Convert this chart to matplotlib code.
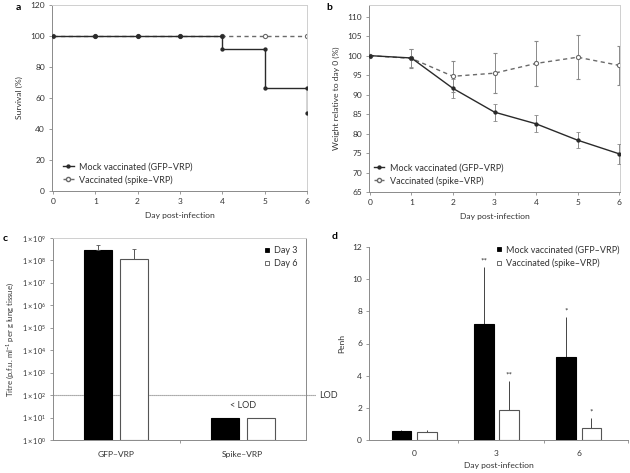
import matplotlib
matplotlib.use("Agg")
import matplotlib.pyplot as plt
from matplotlib.lines import Line2D
import numpy as np

plt.rcParams['font.family'] = ['Lato', 'DejaVu Sans']
plt.rcParams['font.size'] = 6
plt.rcParams['mathtext.fontset'] = 'custom'
plt.rcParams['mathtext.rm'] = 'Lato'
plt.rcParams['mathtext.it'] = 'Lato:italic'

# ---------------- data ----------------
days = [0, 1, 2, 3, 4, 5, 6]
# panel a: survival (%)
survival_mock = [100, 100, 100, 100, 91.7, 66.7, 50]
survival_vac = [100, 100, 100, 100, 100, 100, 100]
# panel b: weight relative to day 0 (%)
weight_mock = [100, 99.4, 91.6, 85.5, 82.5, 78.3, 74.8]
weight_mock_err = [0, 2.4, 2.4, 2.2, 2.2, 2.1, 2.5]
weight_vac = [100, 99.3, 94.7, 95.5, 98.0, 99.6, 97.5]
weight_vac_err = [0, 2.5, 4.0, 5.2, 5.8, 5.7, 5.0]
# panel c: lung titres
titre_groups = ['GFP\u2013VRP', 'Spike\u2013VRP']
titre_day3 = [3.0e8, 10]
titre_day3_err = [1.7e8, 0]
titre_day6 = [1.2e8, 10]
titre_day6_err = [2.0e8, 0]
lod = 100
# panel d: Penh
penh_days = ['0', '3', '6']
penh_mock = [0.55, 7.22, 5.18]
penh_mock_err = [0.09, 3.52, 2.47]
penh_vac = [0.52, 1.85, 0.77]
penh_vac_err = [0.09, 1.82, 0.60]
stars_mock = ['', '**', '*']
stars_vac = ['', '**', '*']

label_mock = 'Mock vaccinated (GFP\u2013VRP)'
label_vac = 'Vaccinated (spike\u2013VRP)'

DARK = '#2a2a2a'
GREY = '#6a6a6a'
SPINE = '#8a8a8a'
LIGHT = '#cfcfcf'
TXT = '#333333'
TICKFS = 6.0
LABFS = 6.1
LEGFS = 6.5

fig = plt.figure(figsize=(6.3, 4.73), dpi=100)


def style(ax, box=True):
    for s in ['left', 'bottom']:
        ax.spines[s].set_color(SPINE)
        ax.spines[s].set_linewidth(0.7)
    if box:
        for s in ['top', 'right']:
            ax.spines[s].set_color(LIGHT)
            ax.spines[s].set_linewidth(0.7)
    else:
        ax.spines['top'].set_visible(False)
        ax.spines['right'].set_visible(False)
    ax.tick_params(length=2.5, width=0.6, color=SPINE, labelcolor=TXT,
                   labelsize=TICKFS, pad=2.5)


# ---------------- panel a ----------------
axa = fig.add_axes([52/630, 1-191/473, 255/630, 186/473])
style(axa)
axa.plot(days, survival_vac, color=GREY, ls=(0, (3, 2.5)), lw=1.0,
         marker='o', ms=3.0, mfc='white', mec=GREY, mew=0.8, zorder=2)
axa.plot(days, survival_mock, color=DARK, lw=1.0, drawstyle='steps-post', zorder=3)
axa.plot(days, survival_mock, ls='none', marker='o', ms=2.1, color=DARK, zorder=4)
axa.plot(days[1:], survival_mock[:-1], ls='none', marker='o', ms=2.1, color=DARK, zorder=4)
axa.set_xlim(-0.02, 6)
axa.set_ylim(0, 120)
axa.set_xticks(days)
axa.set_yticks(range(0, 121, 20))
axa.set_xlabel('Day post-infection', color=TXT, fontsize=LABFS, labelpad=5)
axa.set_ylabel('Survival (%)', color=TXT, fontsize=LABFS, labelpad=5)
h1 = Line2D([], [], color=DARK, lw=1.0, marker='o', ms=2.1)
h2 = Line2D([], [], color=GREY, lw=1.0, ls=(0, (3, 2.5)), marker='o', ms=3.0, mfc='white', mec=GREY)
axa.legend([h1, h2], [label_mock, label_vac], loc='lower left',
           bbox_to_anchor=(0.025, 0.01), frameon=False, fontsize=LEGFS,
           handlelength=1.2, handletextpad=0.6, labelspacing=0.4, labelcolor=TXT,
           borderaxespad=0.1)
fig.text(18/630, 1-8/473, 'a', fontsize=7.5, fontweight='bold', va='center', ha='center')

# ---------------- panel b ----------------
axb = fig.add_axes([369/630, 1-192/473, 251/630, 187/473])
style(axb)
axb.errorbar(days, weight_vac, yerr=weight_vac_err, color=GREY, ls=(0, (3, 2.5)), lw=1.0,
             marker='o', ms=3.0, mfc='white', mec=GREY, mew=0.8,
             ecolor='#8a8a8a', elinewidth=0.7, capsize=1.3, capthick=0.6, zorder=2)
axb.errorbar(days, weight_mock, yerr=weight_mock_err, color=DARK, lw=1.0,
             marker='o', ms=2.1, ecolor='#8a8a8a', elinewidth=0.7, capsize=1.3,
             capthick=0.6, zorder=3)
axb.set_xlim(-0.02, 6.02)
axb.set_ylim(65, 113)
axb.set_xticks(days)
axb.set_yticks(range(65, 111, 5))
axb.set_xlabel('Day post-infection', color=TXT, fontsize=LABFS, labelpad=5)
axb.set_ylabel('Weight relative to day 0 (%)', color=TXT, fontsize=LABFS, labelpad=5)
axb.legend([h1, h2], [label_mock, label_vac], loc='lower left',
           bbox_to_anchor=(0.0, 0.01), frameon=False, fontsize=LEGFS,
           handlelength=1.2, handletextpad=0.6, labelspacing=0.4, labelcolor=TXT,
           borderaxespad=0.1)
fig.text(329/630, 1-8/473, 'b', fontsize=7.5, fontweight='bold', va='center', ha='center')

# ---------------- panel c ----------------
axc = fig.add_axes([53/630, 1-440/473, 253/630, 202/473])
style(axc)
axc.spines['right'].set_color(SPINE)
axc.set_yscale('log')
xc = np.arange(len(titre_groups))
w = 0.22
off = 0.143
axc.bar(xc - off, np.array(titre_day3) - 1, bottom=1, width=w, color='black',
        edgecolor='black', lw=0.8, zorder=3)
axc.bar(xc + off, np.array(titre_day6) - 1, bottom=1, width=w, color='white',
        edgecolor='#555555', lw=0.8, zorder=3)
axc.errorbar(xc[:1] - off, titre_day3[:1], yerr=[[0], titre_day3_err[:1]], fmt='none',
             ecolor='#555555', elinewidth=0.7, capsize=1.3, capthick=0.6, zorder=4)
axc.errorbar(xc[:1] + off, titre_day6[:1], yerr=[[0], titre_day6_err[:1]], fmt='none',
             ecolor='#555555', elinewidth=0.7, capsize=1.3, capthick=0.6, zorder=4)
axc.axhline(lod, color='#777777', ls=(0, (1, 0.8)), lw=0.8, zorder=2)
axc.plot([1.5, 1.58], [lod, lod], color='#777777', ls=(0, (1, 0.8)), lw=0.8,
         clip_on=False)
axc.text(1.6, lod, 'LOD', color=TXT, fontsize=LEGFS, va='center', ha='left')
axc.text(xc[1], 22, '< LOD', color=TXT, fontsize=LEGFS, va='bottom', ha='center')
axc.set_xlim(-0.5, 1.5)
axc.set_ylim(1, 1e9)
axc.set_xticks(xc)
axc.set_xticklabels(titre_groups, fontsize=LABFS)
axc.set_xticks([0.5], minor=True)
axc.tick_params(axis='x', which='major', length=0, pad=8)
axc.tick_params(axis='x', which='minor', length=2.5, width=0.6, color=SPINE)
axc.set_yticks([10.0**k for k in range(10)])
axc.set_yticklabels([r'$1\times10^{%d}$' % k for k in range(10)], fontsize=5.3)
axc.yaxis.set_minor_locator(matplotlib.ticker.NullLocator())
axc.set_ylabel(r'Titre (p.f.u. ml$^{-1}$ per g lung tissue)', color=TXT, fontsize=5.6, labelpad=4)
hc1 = Line2D([], [], ls='none', marker='s', ms=3.4, mfc='black', mec='black', mew=0.6)
hc2 = Line2D([], [], ls='none', marker='s', ms=3.4, mfc='white', mec='#555555', mew=0.6)
axc.legend([hc1, hc2], ['Day 3', 'Day 6'], loc='upper right', bbox_to_anchor=(1.0, 1.0),
           frameon=False, fontsize=LEGFS, handlelength=0.6,
           handletextpad=0.5, labelspacing=0.4, labelcolor=TXT)
fig.text(5/630, 1-238/473, 'c', fontsize=7.5, fontweight='bold', va='center', ha='center')

# ---------------- panel d ----------------
axd = fig.add_axes([369/630, 1-440/473, 259/630, 193/473])
style(axd, box=False)
xd = np.arange(len(penh_days))
wd = 0.24
offd = 0.155
axd.bar(xd - offd, penh_mock, width=wd, color='black', edgecolor='black', lw=0.8, zorder=3)
axd.bar(xd + offd, penh_vac, width=wd, color='white', edgecolor='#555555', lw=0.8, zorder=3)
axd.errorbar(xd - offd, penh_mock, yerr=[np.zeros(3), penh_mock_err], fmt='none',
             ecolor='#444444', elinewidth=0.7, capsize=0, zorder=2)
axd.errorbar(xd + offd, penh_vac, yerr=[np.zeros(3), penh_vac_err], fmt='none',
             ecolor='#444444', elinewidth=0.7, capsize=0, zorder=2)
for i in range(len(xd)):
    if stars_mock[i]:
        axd.text(xd[i] - offd, penh_mock[i] + penh_mock_err[i] + 0.15, stars_mock[i],
                 ha='center', va='bottom', fontsize=6, color=TXT)
    if stars_vac[i]:
        axd.text(xd[i] + offd, penh_vac[i] + penh_vac_err[i] + 0.15, stars_vac[i],
                 ha='center', va='bottom', fontsize=6, color=TXT)
axd.set_xlim(-0.55, 2.6)
axd.set_ylim(0, 12)
axd.set_xticks(xd)
axd.set_xticklabels(penh_days)
axd.set_xticks([0.53, 1.58, 2.6], minor=True)
axd.tick_params(axis='x', which='major', length=0, pad=7)
axd.tick_params(axis='x', which='minor', length=2.5, width=0.6, color=SPINE)
axd.set_yticks(range(0, 13, 2))
axd.set_xlabel('Day post-infection', color=TXT, fontsize=LABFS, labelpad=4)
axd.set_ylabel('Penh', color=TXT, fontsize=LABFS, labelpad=5)
axd.legend([hc1, hc2], [label_mock, label_vac], loc='upper right',
           bbox_to_anchor=(1.0, 1.05), frameon=False, fontsize=LEGFS, handlelength=0.6,
           handletextpad=0.5, labelspacing=0.45, labelcolor=TXT)
fig.text(335/630, 1-236/473, 'd', fontsize=7.5, fontweight='bold', va='center', ha='center')

fig.savefig('out.png', dpi=100)
